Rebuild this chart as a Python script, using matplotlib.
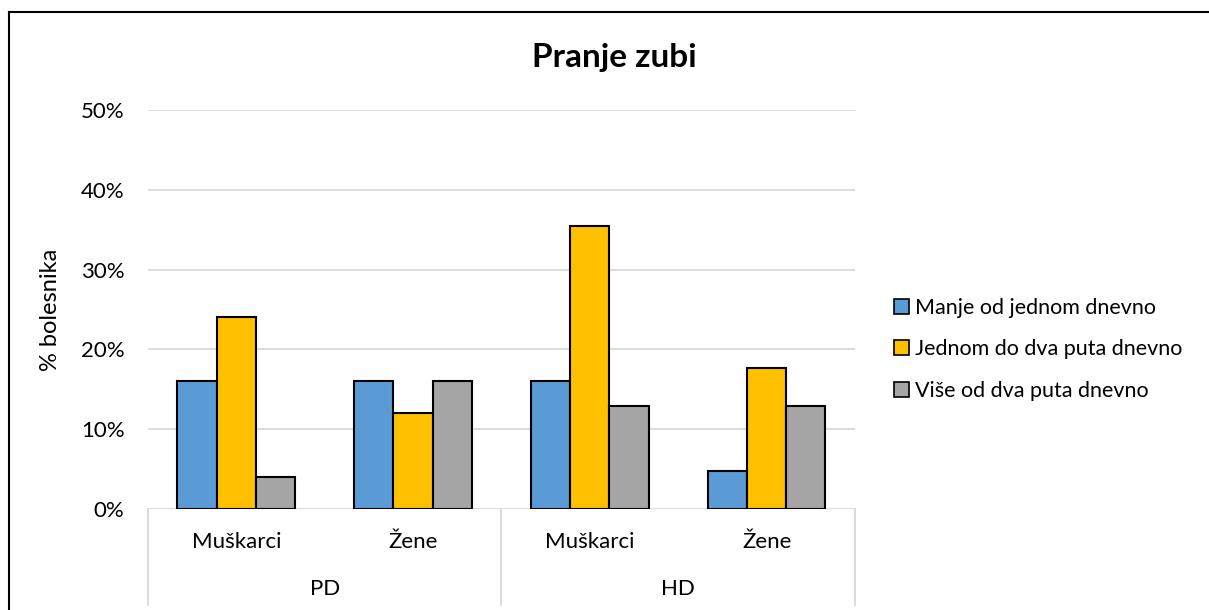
import matplotlib
matplotlib.use("Agg")
import matplotlib.pyplot as plt
from matplotlib.lines import Line2D
import numpy as np

plt.rcParams['font.family'] = ['Lato', 'DejaVu Sans']

# data
groups = ["PD", "HD"]
subcats = ["Muškarci", "Žene", "Muškarci", "Žene"]
series_names = ["Manje od jednom dnevno", "Jednom do dva puta dnevno", "Više od dva puta dnevno"]
manje = [16.0, 16.0, 16.1, 4.8]
jednom = [24.0, 12.0, 35.5, 17.7]
vise = [4.0, 16.0, 12.9, 12.9]
colors = ["#5b9bd5", "#ffc000", "#a5a5a5"]

fig = plt.figure(figsize=(12.09, 6.10), dpi=100)
ax = fig.add_axes([0.1224, 0.1656, 0.5848, 0.6541])

x = np.arange(len(subcats))
w = 0.222
for i, (vals, c, name) in enumerate(zip([manje, jednom, vise], colors, series_names)):
    ax.bar(x + (i - 1) * w, vals, w, color=c, edgecolor='black', linewidth=1.5,
           label=name, zorder=3)

ax.set_xlim(-0.5, len(subcats) - 0.5)
ax.set_ylim(0, 50)
ax.set_yticks(range(0, 51, 10))
ax.set_yticklabels([f"{v}%" for v in range(0, 51, 10)], fontsize=16)
ax.tick_params(axis='y', length=0, pad=17)
ax.yaxis.grid(True, color='#d9d9d9', linewidth=1.3, zorder=0)
for s in ax.spines.values():
    s.set_visible(False)
ax.set_xticks([])
ax.set_ylabel("% bolesnika", fontsize=17, labelpad=14)

# hierarchical category axis
trans = ax.get_xaxis_transform()
for xi, lab in zip(x, subcats):
    ax.text(xi, -0.082, lab, transform=trans, ha='center', va='center', fontsize=16)
for gi, g in enumerate(groups):
    ax.text(gi * 2 + 0.5, -0.2, g, transform=trans, ha='center', va='center', fontsize=16)
for xv in [-0.5, 1.5, 3.5]:
    ax.add_line(Line2D([xv, xv], [0, -0.24], transform=trans, color='#d9d9d9',
                       linewidth=1.3, clip_on=False))

fig.text(614 / 1209, 1 - 57 / 610, "Pranje zubi", fontsize=24, fontweight='bold',
         ha='center', va='center')

leg = ax.legend(loc='center left', bbox_to_anchor=(1.028, 0.40), frameon=False,
                fontsize=15.5, handlelength=0.7, handleheight=0.7, handletextpad=0.25,
                labelspacing=1.0)
for h in leg.legend_handles:
    h.set_linewidth(1.2)

# chart border (top and left)
fig.add_artist(Line2D([9 / 1209, 1], [1 - 12 / 610, 1 - 12 / 610], color='black', linewidth=1.5))
fig.add_artist(Line2D([9 / 1209, 9 / 1209], [0, 1 - 12 / 610], color='black', linewidth=1.5))

fig.savefig("out.png", dpi=100, facecolor='white')
